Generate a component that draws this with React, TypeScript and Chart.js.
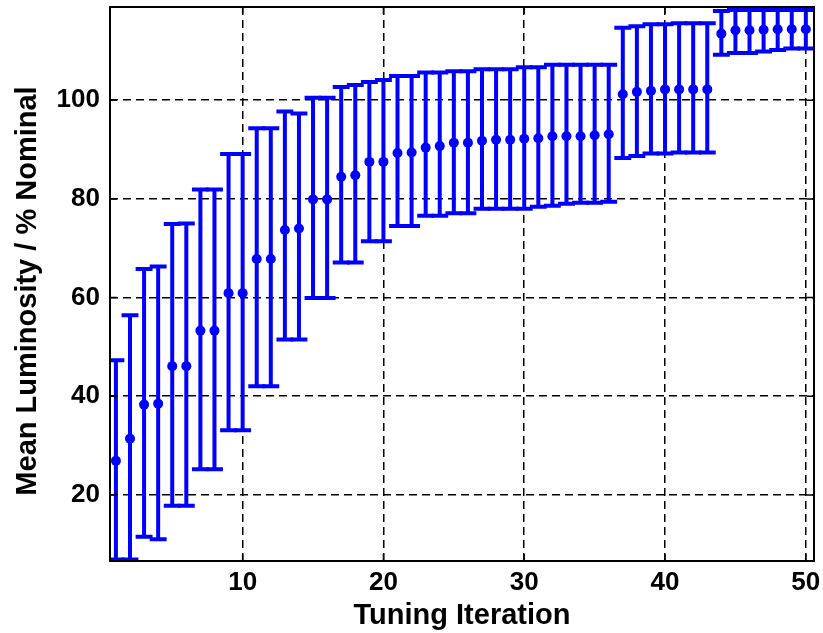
import React, { useEffect, useRef } from "react";
import { Chart, registerables } from "chart.js";

Chart.register(...registerables);

// ---- data ----
const iterations = [
  1, 2, 3, 4, 5, 6, 7, 8, 9, 10, 11, 12, 13, 14, 15, 16, 17, 18, 19, 20, 21, 22, 23, 24, 25,
  26, 27, 28, 29, 30, 31, 32, 33, 34, 35, 36, 37, 38, 39, 40, 41, 42, 43, 44, 45, 46, 47, 48, 49, 50,
];
const meanValues = [
  26.9, 31.4, 38.3, 38.5, 46.1, 46.1, 53.3, 53.3, 60.9, 60.9,
  67.8, 67.8, 73.7, 74.0, 79.9, 79.9, 84.5, 84.8, 87.5, 87.5,
  89.3, 89.4, 90.4, 90.7, 91.4, 91.4, 91.8, 92.0, 92.0, 92.2,
  92.3, 92.7, 92.7, 92.7, 92.9, 93.1, 101.2, 101.7, 101.9, 102.2,
  102.2, 102.2, 102.2, 113.5, 114.2, 114.2, 114.3, 114.4, 114.4, 114.4,
];
const upperValues = [
  47.3, 56.4, 65.8, 66.3, 74.9, 75.0, 81.9, 81.9, 89.1, 89.1,
  94.3, 94.3, 97.7, 97.3, 100.5, 100.5, 102.7, 103.1, 103.7, 104.1,
  104.9, 104.9, 105.6, 105.6, 105.9, 105.9, 106.3, 106.3, 106.3, 106.7,
  106.7, 107.2, 107.2, 107.2, 107.2, 107.2, 114.7, 115.0, 115.4, 115.4,
  115.6, 115.6, 115.6, 118.1, 118.3, 118.3, 118.3, 118.3, 118.3, 118.3,
];
const lowerValues = [
  6.9, 6.9, 11.5, 11.0, 17.8, 17.8, 25.2, 25.2, 33.1, 33.1,
  42.0, 42.0, 51.5, 51.5, 59.9, 59.9, 67.1, 67.1, 71.4, 71.4,
  74.5, 74.5, 76.6, 76.6, 77.1, 77.1, 78.0, 78.0, 78.0, 78.0,
  78.4, 78.6, 79.0, 79.2, 79.2, 79.4, 88.3, 88.7, 89.2, 89.2,
  89.4, 89.4, 89.4, 109.2, 109.6, 109.6, 109.9, 110.2, 110.5, 110.5,
];
const xTicks = [10, 20, 30, 40, 50];
const yTicks = [20, 40, 60, 80, 100];
const xTitle = "Tuning Iteration";
const yTitle = "Mean Luminosity / % Nominal";

const BLUE = "#0000ff";
const FONT = "'Liberation Sans', Arial, Helvetica, sans-serif";
const CAP_HALF = 0.6; // in x data units

const errorBarPlugin = {
  id: "errorBars",
  beforeDatasetsDraw(chart: any) {
    const { ctx, chartArea, scales } = chart;
    const x = scales.x;
    const y = scales.y;
    ctx.save();
    ctx.beginPath();
    ctx.rect(chartArea.left, chartArea.top, chartArea.right - chartArea.left, chartArea.bottom - chartArea.top);
    ctx.clip();
    ctx.strokeStyle = BLUE;
    ctx.lineWidth = 4;
    ctx.lineCap = "butt";
    iterations.forEach((it, i) => {
      const px = x.getPixelForValue(it);
      const pl = x.getPixelForValue(it - CAP_HALF);
      const pr = x.getPixelForValue(it + CAP_HALF);
      const yu = y.getPixelForValue(upperValues[i]);
      const yl = y.getPixelForValue(lowerValues[i]);
      ctx.beginPath();
      ctx.moveTo(px, yu);
      ctx.lineTo(px, yl);
      ctx.moveTo(pl, yu);
      ctx.lineTo(pr, yu);
      ctx.moveTo(pl, yl);
      ctx.lineTo(pr, yl);
      ctx.stroke();
    });
    ctx.restore();
  },
};

const framePlugin = {
  id: "frameBox",
  afterDraw(chart: any) {
    const { ctx, chartArea, scales } = chart;
    const { left, right, top, bottom } = chartArea;
    ctx.save();
    ctx.strokeStyle = "#000";
    ctx.lineWidth = 1.5;
    const tl = 7;
    ctx.beginPath();
    xTicks.forEach((v) => {
      const p = scales.x.getPixelForValue(v);
      ctx.moveTo(p, bottom);
      ctx.lineTo(p, bottom - tl);
      ctx.moveTo(p, top);
      ctx.lineTo(p, top + tl);
    });
    yTicks.forEach((v) => {
      const p = scales.y.getPixelForValue(v);
      ctx.moveTo(left, p);
      ctx.lineTo(left + tl, p);
      ctx.moveTo(right, p);
      ctx.lineTo(right - tl, p);
    });
    ctx.stroke();
    ctx.lineWidth = 2;
    ctx.strokeRect(left, top, right - left, bottom - top);

    // y-axis title
    ctx.fillStyle = "#000";
    ctx.font = `bold 29px ${FONT}`;
    ctx.textAlign = "center";
    ctx.textBaseline = "middle";
    ctx.translate(27.5, (top + bottom) / 2 + 7);
    ctx.rotate(-Math.PI / 2);
    ctx.fillText(yTitle, 0, 0);
    ctx.restore();
  },
};

export default function App() {
  const canvasRef = useRef<HTMLCanvasElement | null>(null);

  useEffect(() => {
    const canvas = canvasRef.current;
    if (!canvas) return;
    const chart = new Chart(canvas, {
      type: "scatter",
      data: {
        datasets: [
          {
            label: "Mean",
            data: iterations.map((it, i) => ({ x: it, y: meanValues[i] })),
            backgroundColor: BLUE,
            borderColor: BLUE,
            borderWidth: 0,
            pointRadius: 5,
            pointHoverRadius: 5,
            showLine: false,
          },
        ],
      },
      options: {
        animation: false,
        responsive: false,
        devicePixelRatio: 1,
        events: [],
        layout: { padding: { top: 7, right: 9, left: 0, bottom: 0 } },
        plugins: {
          legend: { display: false },
          tooltip: { enabled: false },
        },
        scales: {
          x: {
            type: "linear",
            min: 0.58,
            max: 50.58,
            afterBuildTicks: (s: any) => {
              s.ticks = xTicks.map((v) => ({ value: v }));
            },
            afterFit: (s: any) => {
              s.height = 72;
              s.paddingLeft = 0;
              s.paddingRight = 0;
            },
            grid: { color: "#000", lineWidth: 1.5, drawTicks: false },
            border: { display: false, dash: [8, 5] },
            ticks: {
              color: "#000",
              padding: 6,
              maxRotation: 0,
              autoSkip: false,
              font: { family: FONT, size: 26, weight: "bold" },
              callback: (v: any) => String(v),
            },
            title: {
              display: true,
              text: xTitle,
              color: "#000",
              font: { family: FONT, size: 29, weight: "bold" },
              padding: { top: 0, bottom: 0 },
            },
          },
          y: {
            type: "linear",
            min: 6.6,
            max: 118.9,
            afterBuildTicks: (s: any) => {
              s.ticks = yTicks.map((v) => ({ value: v }));
            },
            afterFit: (s: any) => {
              s.width = 110;
              s.paddingTop = 0;
              s.paddingBottom = 0;
            },
            grid: { color: "#000", lineWidth: 1.5, drawTicks: false },
            border: { display: false, dash: [8, 5] },
            ticks: {
              color: "#000",
              padding: 10,
              autoSkip: false,
              font: { family: FONT, size: 26, weight: "bold" },
              callback: (v: any) => String(v),
            },
            title: { display: false },
          },
        },
      },
      plugins: [errorBarPlugin, framePlugin],
    });
    return () => chart.destroy();
  }, []);

  return (
    <div style={{ position: "fixed", left: 0, top: 0, width: 823, height: 633, background: "#fff" }}>
      <canvas ref={canvasRef} width={823} height={633} style={{ display: "block" }} />
    </div>
  );
}
